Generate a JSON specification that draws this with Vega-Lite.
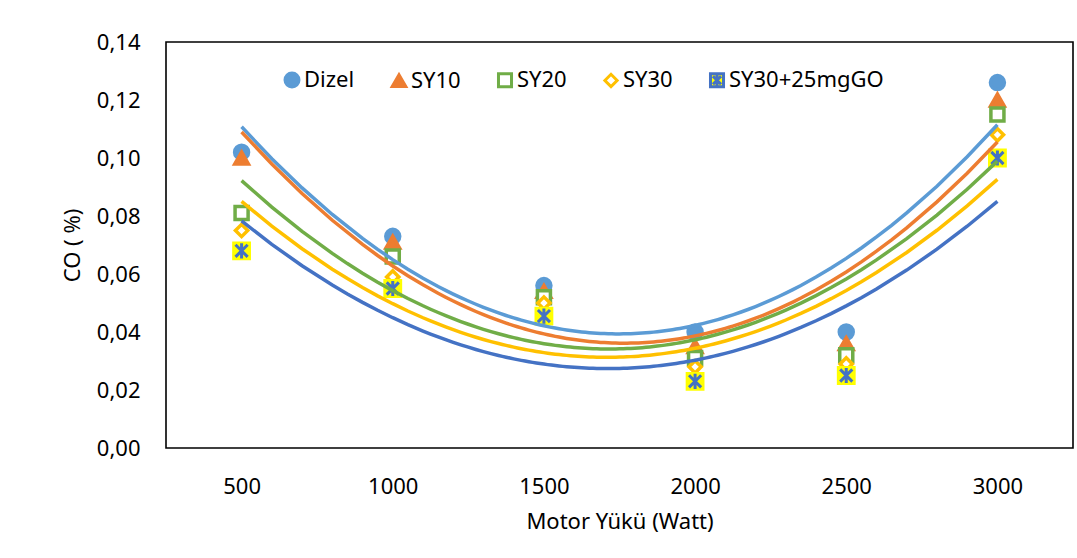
{
  "$schema": "https://vega.github.io/schema/vega-lite/v6.json",
  "autosize": "none",
  "width": 907,
  "height": 406,
  "padding": {"left": 166, "top": 42, "right": 4, "bottom": 110},
  "background": "white",
  "config": {
    "view": {"stroke": "#000", "strokeWidth": 1.6},
    "font": "Noto Sans",
    "axis": {"labelFont": "Noto Sans", "labelFontSize": 22, "labelColor": "#000", "titleFont": "Noto Sans", "titleFontSize": 22, "titleFontWeight": "normal", "titleColor": "#000", "grid": false, "ticks": false, "domain": false},
    "legend": {"labelFont": "Noto Sans", "labelFontSize": 22, "labelColor": "#000", "padding": 0}
  },
  "data": {"values": [
    {"load": 500, "co": 0.102, "series": "Dizel"},
    {"load": 1000, "co": 0.073, "series": "Dizel"},
    {"load": 1500, "co": 0.056, "series": "Dizel"},
    {"load": 2000, "co": 0.040, "series": "Dizel"},
    {"load": 2500, "co": 0.040, "series": "Dizel"},
    {"load": 3000, "co": 0.126, "series": "Dizel"},
    {"load": 500, "co": 0.100, "series": "SY10"},
    {"load": 1000, "co": 0.071, "series": "SY10"},
    {"load": 1500, "co": 0.054, "series": "SY10"},
    {"load": 2000, "co": 0.035, "series": "SY10"},
    {"load": 2500, "co": 0.036, "series": "SY10"},
    {"load": 3000, "co": 0.120, "series": "SY10"},
    {"load": 500, "co": 0.081, "series": "SY20"},
    {"load": 1000, "co": 0.066, "series": "SY20"},
    {"load": 1500, "co": 0.052, "series": "SY20"},
    {"load": 2000, "co": 0.031, "series": "SY20"},
    {"load": 2500, "co": 0.032, "series": "SY20"},
    {"load": 3000, "co": 0.115, "series": "SY20"},
    {"load": 500, "co": 0.075, "series": "SY30"},
    {"load": 1000, "co": 0.059, "series": "SY30"},
    {"load": 1500, "co": 0.050, "series": "SY30"},
    {"load": 2000, "co": 0.028, "series": "SY30"},
    {"load": 2500, "co": 0.029, "series": "SY30"},
    {"load": 3000, "co": 0.108, "series": "SY30"},
    {"load": 500, "co": 0.068, "series": "SY30+25mgGO"},
    {"load": 1000, "co": 0.055, "series": "SY30+25mgGO"},
    {"load": 1500, "co": 0.0455, "series": "SY30+25mgGO"},
    {"load": 2000, "co": 0.023, "series": "SY30+25mgGO"},
    {"load": 2500, "co": 0.025, "series": "SY30+25mgGO"},
    {"load": 3000, "co": 0.100, "series": "SY30+25mgGO"}
  ]},
  "encoding": {
    "x": {"field": "load", "type": "quantitative", "scale": {"domain": [250, 3250], "nice": false, "zero": false},
      "axis": {"values": [500, 1000, 1500, 2000, 2500, 3000], "format": "d", "labelPadding": 28, "titlePadding": 14, "title": "Motor Yükü (Watt)"}},
    "y": {"field": "co", "type": "quantitative", "scale": {"domain": [0, 0.14], "nice": false},
      "axis": {"values": [0, 0.02, 0.04, 0.06, 0.08, 0.1, 0.12, 0.14], "labelExpr": "replace(format(datum.value, '.2f'), '.', ',')", "labelPadding": 26, "titlePadding": 12, "title": "CO ( %)"}}
  },
  "layer": [
    {
      "mark": {"type": "point", "opacity": 1, "strokeWidth": 3.5},
      "encoding": {
        "shape": {"field": "series", "type": "nominal", "scale": {"domain": ["Dizel", "SY10", "SY20", "SY30", "SY30+25mgGO"], "range": ["circle", "triangle-up", "square", "diamond", "M-1,-1H1V1H-1Z M0,-0.8V0.8 M-0.62,-0.62L0.62,0.62 M-0.62,0.62L0.62,-0.62"]},
          "legend": {"title": null, "orient": "none", "legendX": 115, "legendY": 27, "direction": "horizontal", "labelOffset": 1, "columnPadding": 31, "symbolStrokeWidth": 3}},
        "fill": {"field": "series", "type": "nominal", "scale": {"domain": ["Dizel", "SY10", "SY20", "SY30", "SY30+25mgGO"], "range": ["#5B9BD5", "#ED7D31", "#FFFFFF", "#FFFFFF", "#FFFF00"]}},
        "stroke": {"field": "series", "type": "nominal", "scale": {"domain": ["Dizel", "SY10", "SY20", "SY30", "SY30+25mgGO"], "range": ["#5B9BD5", "#ED7D31", "#70AD47", "#FFC000", "#4472C4"]}},
        "size": {"field": "series", "type": "nominal", "scale": {"type": "ordinal", "domain": ["Dizel", "SY10", "SY20", "SY30", "SY30+25mgGO"], "range": [195, 185, 170, 150, 170]}}
      }
    },
    {
      "transform": [{"filter": "datum.series === 'SY30+25mgGO'"}],
      "mark": {"type": "point", "shape": "square", "size": 300, "fill": "#FFFF00", "stroke": "#FFFF00", "strokeWidth": 1.5, "opacity": 1}
    },
    {
      "transform": [{"filter": "datum.series === 'SY30+25mgGO'"}],
      "mark": {"type": "point", "shape": "M0,-1V1M-0.8,-0.8L0.8,0.8M-0.8,0.8L0.8,-0.8", "size": 230, "stroke": "#4472C4", "strokeWidth": 3, "fill": "transparent", "opacity": 1}
    },
    {
      "transform": [{"regression": "co", "on": "load", "groupby": ["series"], "method": "poly", "order": 2, "extent": [500, 3000]}],
      "mark": {"type": "line", "strokeWidth": 3.5},
      "encoding": {
        "color": {"field": "series", "type": "nominal", "scale": {"domain": ["Dizel", "SY10", "SY20", "SY30", "SY30+25mgGO"], "range": ["#5B9BD5", "#ED7D31", "#70AD47", "#FFC000", "#4472C4"]}, "legend": null},
        "order": {"field": "series"}
      }
    }
  ]
}
